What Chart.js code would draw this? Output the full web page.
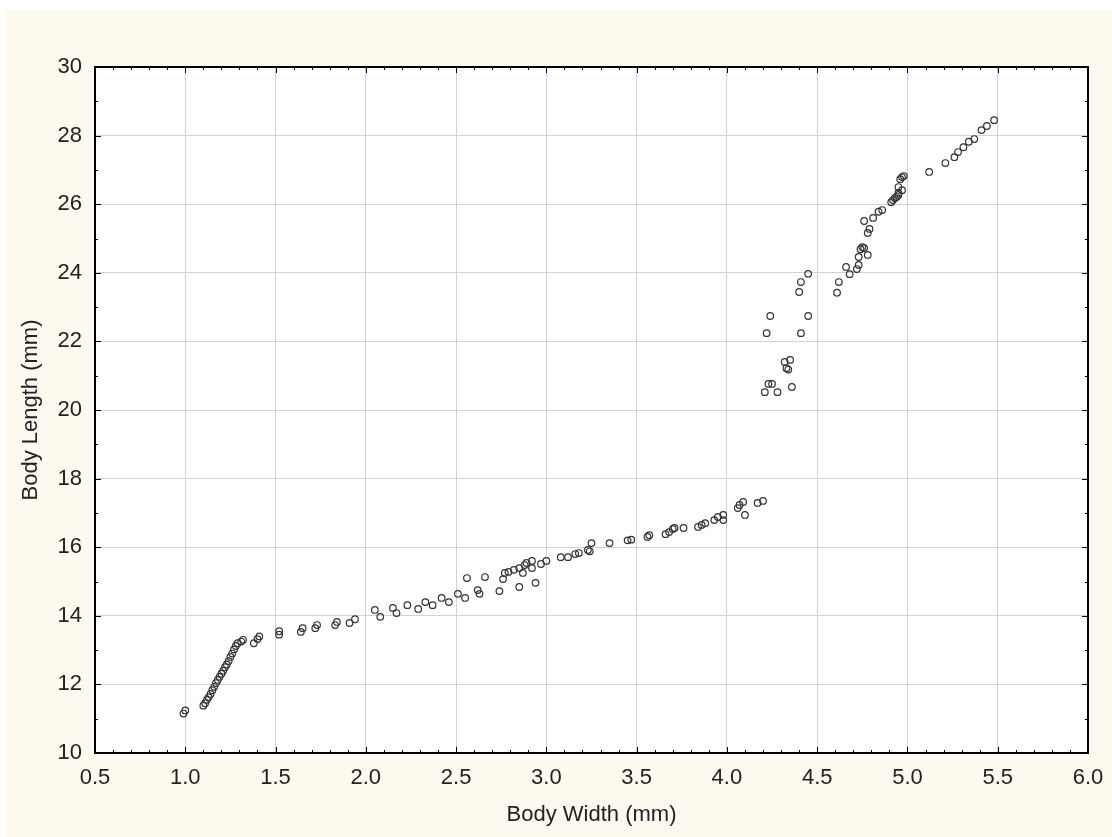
<!DOCTYPE html>
<html>
<head>
<meta charset="utf-8">
<title>Body Width vs Body Length</title>
<script src="https://cdn.jsdelivr.net/npm/chart.js@4"></script>
<style>
  html, body { margin: 0; padding: 0; background: #ffffff; }
  #wrap { width: 1112px; height: 837px; }
</style>
</head>
<body>
<div id="wrap"><canvas id="scatterChart" width="1112" height="837"></canvas></div>
<script>
// Measurements, small individuals (width / length in mm)
const smallWidth = [
  0.99, 1.00, 1.10, 1.11, 1.12, 1.13, 1.14, 1.15, 1.16, 1.17, 1.18, 1.19, 1.20, 1.21,
  1.22, 1.23, 1.24, 1.25, 1.26, 1.27, 1.28, 1.29, 1.31, 1.32, 1.38, 1.40, 1.41,
  1.52, 1.52, 1.64, 1.65, 1.72, 1.73, 1.83, 1.84, 1.91, 1.94, 2.05, 2.08, 2.15, 2.17,
  2.23, 2.29, 2.33, 2.37, 2.42, 2.46, 2.51, 2.55, 2.56, 2.62, 2.63, 2.66, 2.74, 2.76,
  2.77, 2.79, 2.82, 2.85, 2.85, 2.87, 2.88, 2.89, 2.92, 2.92, 2.94, 2.97, 3.00, 3.08,
  3.12, 3.16, 3.18, 3.23, 3.24, 3.25, 3.35, 3.45, 3.47, 3.56, 3.57, 3.66, 3.68, 3.70,
  3.71, 3.76, 3.84, 3.86, 3.88, 3.93, 3.95, 3.98, 3.98, 4.06, 4.07, 4.09, 4.10, 4.17, 4.20
];
const smallLength = [
  11.15, 11.24, 11.38, 11.45, 11.55, 11.63, 11.72, 11.83, 11.93, 12.04, 12.13, 12.22, 12.31, 12.40,
  12.50, 12.58, 12.68, 12.80, 12.90, 13.02, 13.12, 13.20, 13.25, 13.30, 13.20, 13.32, 13.40,
  13.45, 13.55, 13.53, 13.64, 13.64, 13.73, 13.73, 13.82, 13.79, 13.90, 14.17, 13.97, 14.23, 14.08,
  14.31, 14.20, 14.40, 14.31, 14.52, 14.40, 14.64, 14.52, 15.10, 14.75, 14.64, 15.13, 14.72, 15.07,
  15.25, 15.28, 15.34, 14.84, 15.39, 15.25, 15.48, 15.54, 15.60, 15.39, 14.96, 15.51, 15.60, 15.71,
  15.71, 15.80, 15.83, 15.92, 15.88, 16.12, 16.12, 16.20, 16.22, 16.30, 16.35, 16.38, 16.44, 16.53,
  16.56, 16.56, 16.59, 16.65, 16.70, 16.79, 16.88, 16.94, 16.79, 17.14, 17.23, 17.32, 16.94, 17.29, 17.35
];

// Measurements, large individuals
const largeWidth = [
  4.21, 4.23, 4.25, 4.28, 4.36, 4.32, 4.35, 4.33, 4.34, 4.22, 4.24, 4.41, 4.45, 4.40,
  4.41, 4.45, 4.61, 4.62, 4.66, 4.68, 4.72, 4.73, 4.73, 4.78, 4.74, 4.75, 4.76, 4.78,
  4.79, 4.76, 4.81, 4.84, 4.86, 4.91, 4.92, 4.93, 4.94, 4.95, 4.95, 4.97, 4.95, 4.96,
  4.97, 4.98, 5.12, 5.21, 5.26, 5.28, 5.31, 5.34, 5.37, 5.41, 5.44, 5.48
];
const largeLength = [
  20.52, 20.76, 20.76, 20.52, 20.67, 21.40, 21.46, 21.22, 21.18, 22.24, 22.74, 22.24, 22.74, 23.44,
  23.73, 23.97, 23.42, 23.73, 24.17, 23.96, 24.11, 24.23, 24.46, 24.52, 24.69, 24.75, 24.72, 25.16,
  25.28, 25.51, 25.60, 25.78, 25.83, 26.06, 26.12, 26.18, 26.21, 26.27, 26.33, 26.41, 26.50, 26.73,
  26.79, 26.82, 26.94, 27.20, 27.37, 27.52, 27.66, 27.82, 27.90, 28.16, 28.28, 28.45
];

// Axis settings
const xMin = 0.5, xMax = 6.0, xStep = 0.5, xMinorStep = 0.1;
const yMin = 10, yMax = 30, yStep = 2, yMinorStep = 1;

function toPoints(xs, ys) {
  return xs.map((x, i) => ({ x: x, y: ys[i] }));
}

const markerStyle = {
  pointStyle: 'circle',
  pointRadius: 3.3,
  pointHoverRadius: 3.3,
  pointBorderWidth: 1.2,
  pointBorderColor: '#333333',
  pointBackgroundColor: 'rgba(0,0,0,0)',
  showLine: false
};

// cream background with a thin white strip on top/left
const backdrop = {
  id: 'backdrop',
  beforeDraw(chart) {
    const c = chart.ctx;
    c.save();
    c.fillStyle = '#ffffff';
    c.fillRect(0, 0, chart.width, chart.height);
    c.fillStyle = '#fcf9ef';
    c.fillRect(6, 10, chart.width - 6, chart.height - 10);
    const a = chart.chartArea;
    c.fillStyle = '#ffffff';
    c.fillRect(a.left, a.top, a.right - a.left, a.bottom - a.top);
    c.restore();
  }
};

// frame and inward tick marks on all four sides
const frameTicks = {
  id: 'frameTicks',
  afterDraw(chart) {
    const c = chart.ctx;
    const a = chart.chartArea;
    const xs = chart.scales.x, ys = chart.scales.y;
    c.save();
    c.strokeStyle = '#000000';
    c.lineWidth = 1;
    c.beginPath();
    const nx = Math.round((xMax - xMin) / xMinorStep);
    for (let i = 0; i <= nx; i++) {
      const v = xMin + i * xMinorStep;
      const px = Math.round(xs.getPixelForValue(v)) + 0.5;
      const len = (i % 5 === 0) ? 6 : 3;
      c.moveTo(px, a.bottom); c.lineTo(px, a.bottom - len);
      c.moveTo(px, a.top); c.lineTo(px, a.top + len);
    }
    const ny = Math.round((yMax - yMin) / yMinorStep);
    for (let i = 0; i <= ny; i++) {
      const v = yMin + i * yMinorStep;
      const py = Math.round(ys.getPixelForValue(v)) + 0.5;
      const len = (i % 2 === 0) ? 6 : 3;
      c.moveTo(a.left, py); c.lineTo(a.left + len, py);
      c.moveTo(a.right, py); c.lineTo(a.right - len, py);
    }
    c.stroke();
    c.lineWidth = 2;
    c.strokeRect(a.left, a.top, a.right - a.left, a.bottom - a.top);
    c.restore();
  }
};

const tickFont = { family: 'Arial, "Liberation Sans", sans-serif', size: 22 };

const ctx = document.getElementById('scatterChart').getContext('2d');
const scatterChart = new Chart(ctx, {
  type: 'scatter',
  data: {
    datasets: [
      Object.assign({ label: 'small', data: toPoints(smallWidth, smallLength) }, markerStyle),
      Object.assign({ label: 'large', data: toPoints(largeWidth, largeLength) }, markerStyle)
    ]
  },
  options: {
    responsive: false,
    animation: false,
    events: [],
    layout: { padding: { left: 0, top: 67, right: 24, bottom: 0 } },
    plugins: {
      legend: { display: false },
      tooltip: { enabled: false }
    },
    scales: {
      x: {
        type: 'linear',
        min: xMin,
        max: xMax,
        afterFit(scale) {
          scale.height = 84;
          scale.paddingLeft = 0;
          scale.paddingRight = 0;
        },
        ticks: {
          stepSize: xStep,
          color: '#222222',
          font: tickFont,
          padding: 12,
          maxRotation: 0,
          callback: v => v.toFixed(1)
        },
        grid: { color: '#d2d2d2', lineWidth: 1, drawTicks: false },
        border: { display: false },
        title: {
          display: true,
          text: 'Body Width (mm)',
          color: '#222222',
          font: tickFont,
          padding: { top: 0, bottom: 9 }
        }
      },
      y: {
        type: 'linear',
        min: yMin,
        max: yMax,
        afterFit(scale) {
          scale.width = 95;
          scale.paddingTop = 0;
          scale.paddingBottom = 0;
        },
        ticks: {
          stepSize: yStep,
          color: '#222222',
          font: tickFont,
          padding: 13
        },
        grid: { color: '#d2d2d2', lineWidth: 1, drawTicks: false },
        border: { display: false },
        title: {
          display: true,
          text: 'Body Length (mm)',
          color: '#222222',
          font: tickFont,
          padding: { top: 18, bottom: 0 }
        }
      }
    }
  },
  plugins: [backdrop, frameTicks]
});
</script>
</body>
</html>
